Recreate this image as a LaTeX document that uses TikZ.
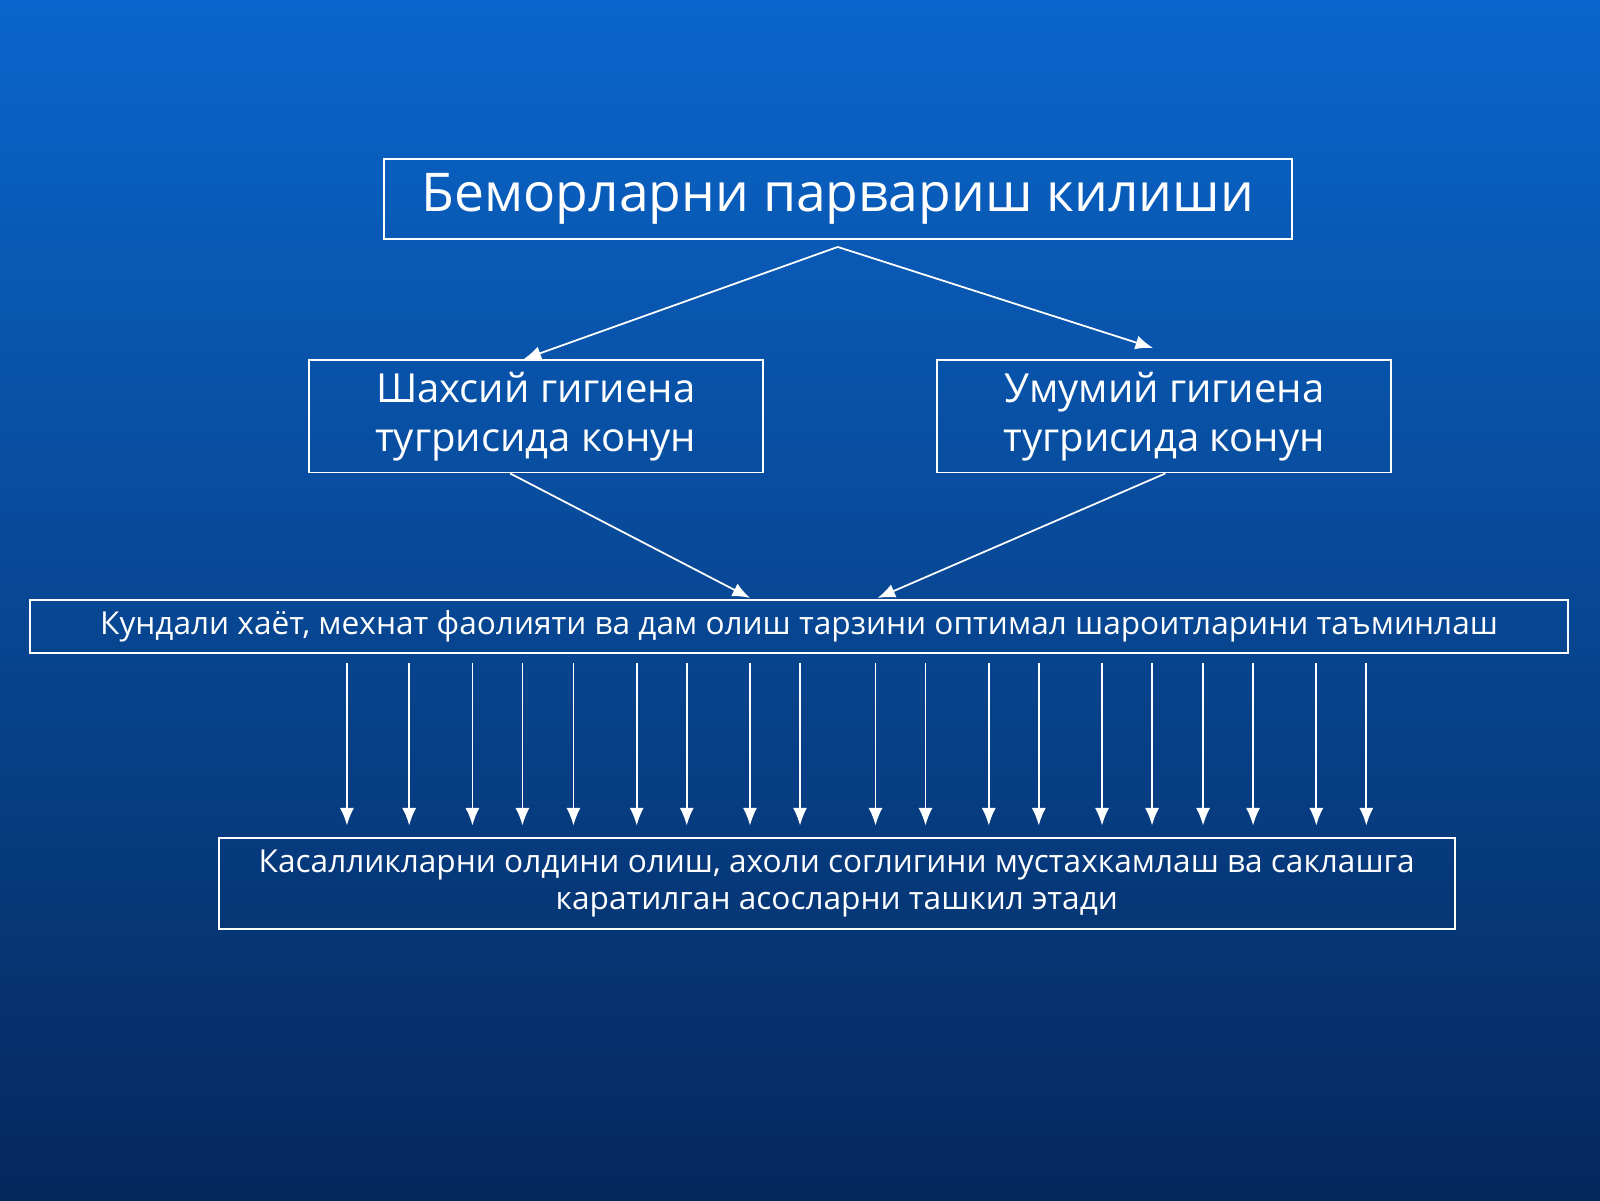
\documentclass[tikz,border=0pt]{standalone}
\usepackage{fontspec}
\setmainfont{Open Sans}
\usetikzlibrary{arrows.meta}
\definecolor{bgtop}{HTML}{0A66CC}
\definecolor{bgbot}{HTML}{05285C}
\begin{document}
\begin{tikzpicture}[x=0.010204cm,y=-0.010204cm,
  box/.style={draw=white,line width=0.55pt,text=white,inner sep=0pt,align=center},
  link/.style={draw=white,line width=0.5pt,-{Latex[length=5pt,width=4pt]}}]
  % фон
  \shade[top color=bgtop,bottom color=bgbot] (0,0) rectangle (1568,1176);
  \useasboundingbox (0,0) rectangle (1568,1176);

  % блоклар
  \node[box,minimum width=890*0.010204cm,minimum height=79*0.010204cm,font=\fontsize{15.2}{18}\selectfont]
    (care) at (821,195) {\raisebox{-2pt}{Беморларни парвариш килиши}};
  \node[box,minimum width=445*0.010204cm,minimum height=110*0.010204cm,font=\fontsize{11.4}{14}\selectfont]
    (pers) at (525,408) {Шахсий гигиена\\тугрисида конун};
  \node[box,minimum width=445*0.010204cm,minimum height=110*0.010204cm,font=\fontsize{11.4}{14}\selectfont]
    (publ) at (1141,408) {Умумий гигиена\\тугрисида конун};
  \node[box,minimum width=1507*0.010204cm,minimum height=52*0.010204cm,font=\fontsize{9}{11}\selectfont]
    (life) at (783,614) {Кундали хаёт, мехнат фаолияти ва дам олиш тарзини оптимал шароитларини таъминлаш};
  \node[box,minimum width=1211*0.010204cm,minimum height=89*0.010204cm,font=\fontsize{9}{10.5}\selectfont]
    (base) at (820,866) {Касалликларни олдини олиш, ахоли соглигини мустахкамлаш ва саклашга\\каратилган асосларни ташкил этади};

  % стрелкалар
  \coordinate (careS) at (821,242);
  \coordinate (persN) at (513,352);
  \coordinate (publN) at (1130,341);
  \coordinate (persS) at (500,464);
  \coordinate (publS) at (1142,464);
  \coordinate (lifeL) at (735,586);
  \coordinate (lifeR) at (860,586);
  \draw[link] (careS) -- (persN);
  \draw[link] (careS) -- (publN);
  \draw[link] (persS) -- (lifeL);
  \draw[link] (publS) -- (lifeR);

  \foreach \x in {340,401,463,512,562,624,673,735,784,858,907,969,1018,1080,1129,1179,1228,1290,1339}{
    \coordinate (a\x) at (\x,650);
    \coordinate (b\x) at (\x,809);
    \draw[link] (a\x) -- (b\x);
  }
\end{tikzpicture}
\end{document}
